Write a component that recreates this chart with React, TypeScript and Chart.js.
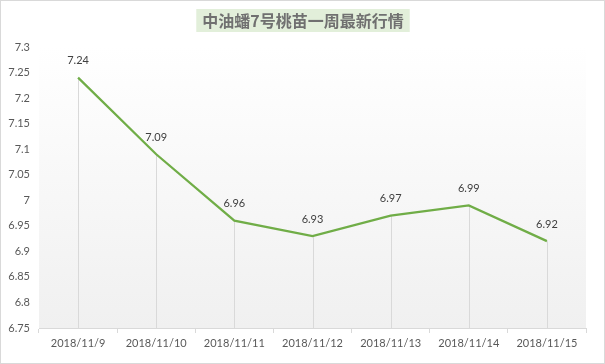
import React, { useEffect, useRef } from "react";
import { Chart, registerables } from "chart.js";

Chart.register(...registerables);

const TITLE = "中油蟠7号桃苗一周最新行情";
const categories = [
  "2018/11/9",
  "2018/11/10",
  "2018/11/11",
  "2018/11/12",
  "2018/11/13",
  "2018/11/14",
  "2018/11/15",
];
const prices = [7.24, 7.09, 6.96, 6.93, 6.97, 6.99, 6.92];
const yMin = 6.75;
const yMax = 7.3;
const yStep = 0.05;

const W = 605;
const H = 364;
const FONT = "Lato, 'Noto Sans', sans-serif";

const decorPlugin = {
  id: "decor",
  beforeDraw(chart: any) {
    const { ctx, chartArea } = chart;
    ctx.save();
    ctx.fillStyle = "#ffffff";
    ctx.fillRect(0, 0, chart.width, chart.height);
    const g = ctx.createLinearGradient(0, chartArea.top, 0, chartArea.bottom);
    g.addColorStop(0, "#ffffff");
    g.addColorStop(1, "#f0f0f0");
    ctx.fillStyle = g;
    ctx.fillRect(chartArea.left, chartArea.top, chartArea.right - chartArea.left, chartArea.bottom - chartArea.top);
    ctx.restore();
  },
  beforeDatasetsDraw(chart: any) {
    const { ctx, chartArea } = chart;
    const meta = chart.getDatasetMeta(0);
    ctx.save();
    ctx.strokeStyle = "#d9d9d9";
    ctx.lineWidth = 1;
    meta.data.forEach((p: any) => {
      const x = Math.round(p.x) + 0.5;
      ctx.beginPath();
      ctx.moveTo(x, p.y);
      ctx.lineTo(x, chartArea.bottom);
      ctx.stroke();
    });
    ctx.restore();
  },
  afterDatasetsDraw(chart: any) {
    const { ctx } = chart;
    const meta = chart.getDatasetMeta(0);
    ctx.save();
    ctx.fillStyle = "#404040";
    ctx.font = `11px ${FONT}`;
    ctx.textAlign = "center";
    ctx.textBaseline = "middle";
    meta.data.forEach((p: any, i: number) => {
      ctx.fillText(prices[i].toFixed(2), p.x, p.y - 17);
    });
    ctx.restore();
  },
  afterDraw(chart: any) {
    const { ctx } = chart;
    ctx.save();
    ctx.font = `bold 16px 'Noto Sans CJK SC', sans-serif`;
    const tw = ctx.measureText(TITLE).width;
    const cx = 303;
    const cy = 20;
    ctx.fillStyle = "#e2efda";
    ctx.fillRect(cx - tw / 2 - 6, 9, tw + 12, 23);
    ctx.fillStyle = "#707070";
    ctx.textAlign = "center";
    ctx.textBaseline = "middle";
    ctx.fillText(TITLE, cx, cy + 1);
    ctx.strokeStyle = "#d9d9d9";
    ctx.lineWidth = 1;
    ctx.strokeRect(0.5, 0.5, chart.width - 1, chart.height - 1);
    ctx.restore();
  },
};

export default function App() {
  const ref = useRef<HTMLCanvasElement | null>(null);
  useEffect(() => {
    document.body.style.margin = "0";
    const canvas = ref.current!;
    const chart = new Chart(canvas, {
      type: "line",
      data: {
        labels: categories,
        datasets: [
          {
            data: prices,
            borderColor: "#70ad47",
            borderWidth: 2.25,
            pointRadius: 0,
            tension: 0,
            fill: false,
          },
        ],
      },
      options: {
        responsive: false,
        animation: false,
        devicePixelRatio: 1,
        layout: { padding: { left: 0, right: 19, top: 47, bottom: 0 } },
        plugins: {
          legend: { display: false },
          title: { display: false },
          tooltip: { enabled: false },
        },
        scales: {
          x: {
            type: "category",
            offset: true,
            grid: {
              display: true,
              offset: true,
              drawOnChartArea: false,
              drawTicks: true,
              tickLength: 5,
              color: "#d9d9d9",
            },
            border: { display: true, color: "#d9d9d9" },
            ticks: {
              color: "#595959",
              font: { size: 11, family: FONT },
              padding: 4,
              maxRotation: 0,
              autoSkip: false,
            },
            afterFit(scale: any) {
              scale.height = 36;
            },
          },
          y: {
            min: yMin,
            max: yMax,
            grid: { display: false, drawTicks: false },
            border: { display: false },
            ticks: {
              stepSize: yStep,
              color: "#595959",
              font: { size: 11, family: FONT },
              padding: 9,
              callback: (v: any) => String(Number(Number(v).toFixed(2))),
            },
            afterFit(scale: any) {
              scale.width = 39;
            },
          },
        },
      },
      plugins: [decorPlugin],
    } as any);
    return () => chart.destroy();
  }, []);
  return (
    <div style={{ position: "fixed", left: 0, top: 0, width: W, height: H }}>
      <canvas ref={ref} width={W} height={H} style={{ width: W, height: H, display: "block" }} />
    </div>
  );
}
